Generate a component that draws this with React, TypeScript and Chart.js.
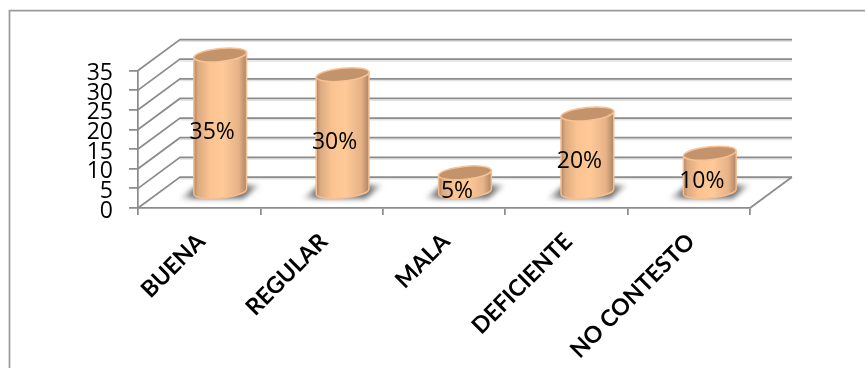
import React, { useEffect, useRef } from "react";
import { Chart, registerables } from "chart.js";

Chart.register(...registerables);

// Survey results, in percent
const categories = ["BUENA", "REGULAR", "MALA", "DEFICIENTE", "NO CONTESTO"];
const values = [35, 30, 5, 20, 10];
const valueLabels = ["35%", "30%", "5%", "20%", "10%"];

const NUMBER_FONT = "'Open Sans'";
const CATEGORY_FONT = "Lato";
const LINE = "#8c8c8c";
const DEPTH_X = 42;
const DEPTH_Y = 31;

// Back wall, side wall and floor of the pseudo-3D plot box
const wallsPlugin = {
  id: "walls",
  beforeDatasetsDraw(chart: any) {
    const { ctx, chartArea, scales } = chart;
    const { left, right, bottom } = chartArea;
    ctx.save();

    // Outer chart frame: only the top and left edges fall inside the canvas
    ctx.strokeStyle = "#9c9c9c";
    ctx.lineWidth = 1.75;
    ctx.beginPath();
    ctx.moveTo(865, 10.5);
    ctx.lineTo(9.5, 10.5);
    ctx.lineTo(9.5, 368);
    ctx.stroke();

    for (const tick of scales.y.ticks) {
      const y = scales.y.getPixelForValue(tick.value);
      ctx.strokeStyle = "#e2e2e2";
      ctx.lineWidth = 1.5;
      ctx.beginPath();
      ctx.moveTo(left + DEPTH_X, y - DEPTH_Y + 1.75);
      ctx.lineTo(right + DEPTH_X, y - DEPTH_Y + 1.75);
      ctx.stroke();

      ctx.strokeStyle = LINE;
      ctx.lineWidth = 1.75;
      ctx.beginPath();
      ctx.moveTo(left, y);
      ctx.lineTo(left + DEPTH_X, y - DEPTH_Y);
      ctx.lineTo(right + DEPTH_X, y - DEPTH_Y);
      ctx.stroke();
    }

    // Right edge of the floor
    ctx.beginPath();
    ctx.moveTo(right, bottom);
    ctx.lineTo(right + DEPTH_X, bottom - DEPTH_Y);
    ctx.stroke();
    ctx.restore();
  },
};

// Cylinders drawn from the positions of the bar elements, plus their value labels
const cylindersPlugin = {
  id: "cylinders",
  afterDatasetsDraw(chart: any) {
    const { ctx } = chart;
    const bars = chart.getDatasetMeta(0).data;
    const tilt = -0.1;

    bars.forEach((bar: any, i: number) => {
      const rx = bar.width / 2;
      const ry = 6.5;
      const cx = bar.x + DEPTH_X / 2;
      const topY = bar.y - DEPTH_Y / 2;
      const baseY = bar.base - DEPTH_Y / 2;
      const dx = rx * Math.cos(tilt);
      const dy = rx * Math.sin(tilt);

      // Soft floor shadow, leaning back to the right
      ctx.save();
      ctx.filter = "blur(2.5px)";
      const shade = ctx.createLinearGradient(cx - rx - 15, 0, cx + rx + 15, 0);
      shade.addColorStop(0, "rgba(110,110,110,0)");
      shade.addColorStop(0.18, "rgba(90,90,90,0.85)");
      shade.addColorStop(0.82, "rgba(90,90,90,0.85)");
      shade.addColorStop(1, "rgba(110,110,110,0)");
      ctx.fillStyle = shade;
      ctx.beginPath();
      ctx.moveTo(cx - rx - 15, baseY + 7);
      ctx.lineTo(cx - rx + 4, baseY - 7);
      ctx.lineTo(cx + rx + 15, baseY - 7);
      ctx.lineTo(cx + rx - 4, baseY + 7);
      ctx.closePath();
      ctx.fill();
      ctx.restore();

      // Body
      const body = ctx.createLinearGradient(cx - rx, 0, cx + rx, 0);
      body.addColorStop(0, "#ab8562");
      body.addColorStop(0.08, "#dcaa80");
      body.addColorStop(0.3, "#fac391");
      body.addColorStop(0.55, "#ffca98");
      body.addColorStop(0.85, "#e6b287");
      body.addColorStop(1, "#ab8562");
      ctx.save();
      ctx.fillStyle = body;
      ctx.strokeStyle = "#f6bf92";
      ctx.lineWidth = 1.5;
      ctx.beginPath();
      ctx.moveTo(cx + dx, topY + dy);
      ctx.lineTo(cx + dx, baseY + dy);
      ctx.ellipse(cx, baseY, rx, ry, tilt, 0, Math.PI);
      ctx.lineTo(cx - dx, topY - dy);
      ctx.closePath();
      ctx.fill();
      ctx.stroke();

      // Top cap
      ctx.fillStyle = "#c3946c";
      ctx.strokeStyle = "#f9c294";
      ctx.beginPath();
      ctx.ellipse(cx, topY, rx, ry, tilt, 0, Math.PI * 2);
      ctx.fill();
      ctx.stroke();

      // Value label
      ctx.fillStyle = "#000";
      ctx.font = `23px ${NUMBER_FONT}`;
      ctx.textAlign = "center";
      ctx.textBaseline = "middle";
      ctx.fillText(valueLabels[i], bar.x + 13, (bar.y + bar.base) / 2 - 6.5);
      ctx.restore();
    });
  },
};

export default function App() {
  const ref = useRef<HTMLCanvasElement>(null);

  useEffect(() => {
    if (!ref.current) return;
    const chart = new Chart(ref.current, {
      type: "bar",
      data: {
        labels: categories,
        datasets: [
          {
            data: values,
            backgroundColor: "transparent",
            categoryPercentage: 1,
            barPercentage: 0.433,
          },
        ],
      },
      options: {
        responsive: false,
        animation: false,
        layout: { padding: { top: 70.5, right: 115, left: 0, bottom: 0 } },
        plugins: { legend: { display: false }, tooltip: { enabled: false } },
        scales: {
          x: {
            afterFit: (s: any) => {
              s.height = 160;
            },
            grid: {
              offset: true,
              drawOnChartArea: false,
              color: LINE,
              lineWidth: 1.75,
              tickLength: 7,
            },
            border: { color: LINE, width: 1.75 },
            ticks: {
              color: "#000",
              font: { family: CATEGORY_FONT, size: 23, weight: "bold" },
              minRotation: 45,
              maxRotation: 45,
              padding: 13,
              labelOffset: 2,
              autoSkip: false,
            },
          },
          y: {
            min: 0,
            max: 35,
            afterFit: (s: any) => {
              s.width = 138;
            },
            grid: {
              drawOnChartArea: false,
              color: LINE,
              lineWidth: 1.75,
              tickLength: 9,
            },
            border: { color: LINE, width: 1.75 },
            ticks: {
              stepSize: 5,
              color: "#000",
              font: { family: NUMBER_FONT, size: 23 },
              padding: 16,
              labelOffset: 3,
              autoSkip: false,
            },
          },
        },
      },
      plugins: [wallsPlugin, cylindersPlugin],
    } as any);
    return () => chart.destroy();
  }, []);

  return (
    <canvas
      ref={ref}
      width={865}
      height={368}
      style={{ position: "fixed", left: 0, top: 0, display: "block", background: "#fff" }}
    />
  );
}
